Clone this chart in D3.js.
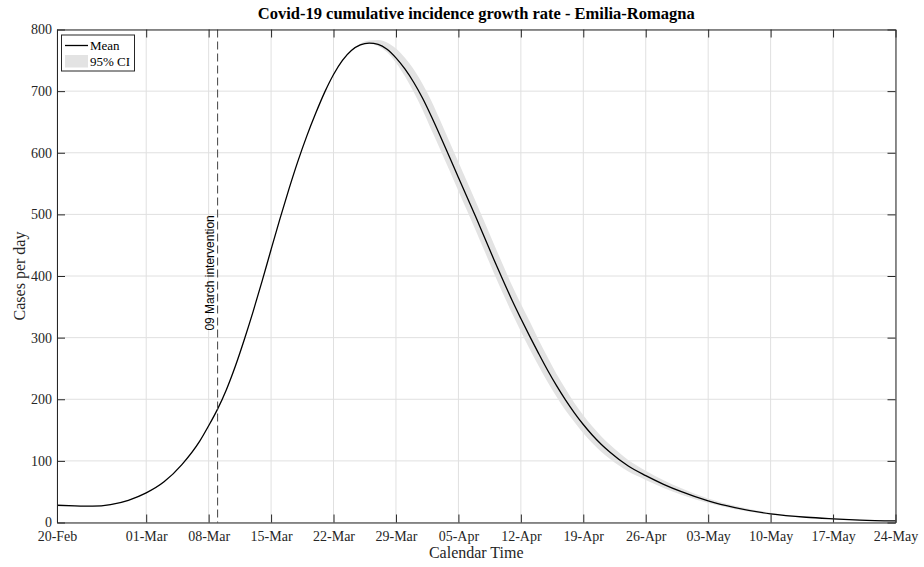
<!DOCTYPE html>
<meta charset="utf-8">
<head>
<script src="https://d3js.org/d3.v7.min.js"></script>
<style>
body { margin: 0; background: #fff; }
text { font-family: "Liberation Serif", "Times New Roman", serif; fill: #262626; }
.grid line { stroke: #e0e0e0; stroke-width: 1; }
.axis path, .axis line { stroke: #262626; }
.axis text { font-size: 14px; font-family: "Liberation Serif", serif; fill: #262626; }
</style>
</head>
<body>
<script>

// data
var dates = ["2020-02-20","2020-02-22","2020-02-24","2020-02-26","2020-02-28","2020-03-01","2020-03-03","2020-03-05",
             "2020-03-07","2020-03-08","2020-03-09","2020-03-10","2020-03-11","2020-03-12","2020-03-13","2020-03-14","2020-03-15","2020-03-16",
             "2020-03-17","2020-03-18","2020-03-19","2020-03-20","2020-03-21","2020-03-22","2020-03-23","2020-03-24","2020-03-25","2020-03-26",
             "2020-03-27","2020-03-28","2020-03-29","2020-03-30","2020-03-31",
             "2020-04-01","2020-04-02","2020-04-03","2020-04-04","2020-04-05","2020-04-06","2020-04-07","2020-04-08","2020-04-09","2020-04-10",
             "2020-04-11","2020-04-12","2020-04-13","2020-04-14","2020-04-15","2020-04-16","2020-04-17","2020-04-18","2020-04-19","2020-04-20",
             "2020-04-21","2020-04-22",
             "2020-04-24","2020-04-26","2020-04-28","2020-04-30","2020-05-03","2020-05-06","2020-05-10","2020-05-14","2020-05-17","2020-05-20","2020-05-24"];
var meanVals = [28,27,26.5,29,36,48,66,94,
                132,157,184,216,254,297,343,392,443,493,
                541,586,627,664,698,727,750,766,775,778,
                776,768,754,736,714,
                688,658,626,593,560,527,494,460,426,393,
                361,331,302,274,247,222,199,178,159,142,
                127,114,
                92,76,62,50,35,24,14,8.5,6,4,2.5];
var ciLow  = [27.5,26.5,26,28.5,35.5,47.5,65.5,93.5,
              131.5,156.5,183.5,215.5,253.5,296.5,342.5,391.5,442.5,492.5,
              540.5,585.5,626.5,663.5,697.5,726.5,749.5,765.5,774,777,
              773,763,746,724,698,
              669,636,604,571,538,505,472,438,404,371,
              340,310,281,254,228,204,182,163,145,129,
              115,103,
              83,69,56,45,31.5,21.5,12.5,7.5,5.2,3.4,2];
var ciHigh = [28.5,27.5,27,29.5,36.5,48.5,66.5,94.5,
              132.5,157.5,184.5,216.5,254.5,297.5,343.5,392.5,443.5,493.5,
              541.5,586.5,627.5,664.5,698.5,727.5,750.5,766.5,777,782,
              783,779,769,754,735,
              711,683,651,618,585,552,519,485,451,418,
              385,355,326,296,268,241,217,194,174,156,
              140,126,
              102,84,68.5,55.5,39,27,16,9.7,7,4.7,3];
var tickDates = ["2020-02-20","2020-03-01","2020-03-08","2020-03-15","2020-03-22","2020-03-29","2020-04-05","2020-04-12","2020-04-19","2020-04-26","2020-05-03","2020-05-10","2020-05-17","2020-05-24"];
var yTicks = [0,100,200,300,400,500,600,700,800];
var interventionDate = "2020-03-09";

var parseDate = d3.timeParse("%Y-%m-%d");
var data = dates.map(function(d, i) {
  return {date: parseDate(d), mean: meanVals[i], lo: ciLow[i], hi: ciHigh[i]};
});

var margin = {top: 29.5, right: 28.5, bottom: 44.5, left: 57},
    width = 924 - margin.left - margin.right,
    height = 567 - margin.top - margin.bottom;

var x = d3.scaleTime()
    .domain([parseDate("2020-02-20"), parseDate("2020-05-24")])
    .range([0, width]);
var y = d3.scaleLinear().domain([0, 800]).range([height, 0]);

var svg = d3.select("body").append("svg")
    .attr("width", 924)
    .attr("height", 567)
  .append("g")
    .attr("transform", "translate(" + margin.left + "," + margin.top + ")");

var xt = tickDates.map(parseDate);

// grid
svg.append("g").attr("class", "grid")
  .selectAll("line").data(xt).enter().append("line")
    .attr("x1", function(d) { return x(d); }).attr("x2", function(d) { return x(d); })
    .attr("y1", 0).attr("y2", height);
svg.append("g").attr("class", "grid")
  .selectAll("line").data(yTicks).enter().append("line")
    .attr("y1", function(d) { return y(d); }).attr("y2", function(d) { return y(d); })
    .attr("x1", 0).attr("x2", width);

// CI band
var band = d3.area()
    .x(function(d) { return x(d.date); })
    .y0(function(d) { return y(d.lo); })
    .y1(function(d) { return y(d.hi); })
    .curve(d3.curveMonotoneX);
svg.append("path").datum(data)
    .attr("d", band)
    .attr("fill", "#e3e3e3");

// mean line
var line = d3.line()
    .x(function(d) { return x(d.date); })
    .y(function(d) { return y(d.mean); })
    .curve(d3.curveMonotoneX);
svg.append("path").datum(data)
    .attr("d", line)
    .attr("fill", "none")
    .attr("stroke", "#000")
    .attr("stroke-width", 1.3);

// intervention line
var xi = x(parseDate(interventionDate));
svg.append("line")
    .attr("x1", xi).attr("x2", xi)
    .attr("y1", 0).attr("y2", height)
    .attr("stroke", "#555")
    .attr("stroke-width", 1.1)
    .attr("stroke-dasharray", "8,4");
svg.append("text")
    .attr("transform", "translate(" + (xi - 4) + "," + y(405) + ") rotate(-90)")
    .attr("text-anchor", "middle")
    .style("font-family", "Liberation Sans, Arial, sans-serif")
    .style("font-size", "12px")
    .style("fill", "#000")
    .text("09 March intervention");

// axes (inward ticks, box)
var fmt = d3.timeFormat("%d-%b");
svg.append("g").attr("class", "axis")
    .attr("transform", "translate(0," + height + ")")
    .call(d3.axisBottom(x).tickValues(xt).tickFormat(fmt).tickSizeInner(-8).tickSizeOuter(0).tickPadding(9));
svg.append("g").attr("class", "axis")
    .call(d3.axisTop(x).tickValues(xt).tickFormat("").tickSizeInner(-8).tickSizeOuter(0));
svg.append("g").attr("class", "axis")
    .call(d3.axisLeft(y).tickValues(yTicks).tickSizeInner(-8).tickSizeOuter(0).tickPadding(5));
svg.append("g").attr("class", "axis")
    .attr("transform", "translate(" + width + ",0)")
    .call(d3.axisRight(y).tickValues(yTicks).tickFormat("").tickSizeInner(-8).tickSizeOuter(0));

// title and labels
svg.append("text")
    .attr("x", width / 2).attr("y", -11)
    .attr("text-anchor", "middle")
    .style("font-weight", "bold")
    .style("font-size", "16.5px")
    .style("fill", "#000")
    .text("Covid-19 cumulative incidence growth rate - Emilia-Romagna");
svg.append("text")
    .attr("x", width / 2).attr("y", height + 35)
    .attr("text-anchor", "middle")
    .style("font-size", "16px")
    .text("Calendar Time");
svg.append("text")
    .attr("transform", "rotate(-90)")
    .attr("x", -height / 2).attr("y", -32)
    .attr("text-anchor", "middle")
    .style("font-size", "16px")
    .text("Cases per day");

// legend
var lg = svg.append("g").attr("transform", "translate(4.5,5.5)");
lg.append("rect").attr("width", 73).attr("height", 36)
    .attr("fill", "#fff").attr("stroke", "#262626");
lg.append("line").attr("x1", 3.5).attr("x2", 26.5).attr("y1", 10.5).attr("y2", 10.5)
    .attr("stroke", "#000").attr("stroke-width", 1.3);
lg.append("rect").attr("x", 3.5).attr("y", 20).attr("width", 23).attr("height", 12.5)
    .attr("fill", "#e3e3e3");
lg.append("text").attr("x", 28.5).attr("y", 15).style("font-size", "13px").style("fill", "#000").text("Mean");
lg.append("text").attr("x", 28.5).attr("y", 31).style("font-size", "13px").style("fill", "#000").text("95% CI");

</script>
</body>
